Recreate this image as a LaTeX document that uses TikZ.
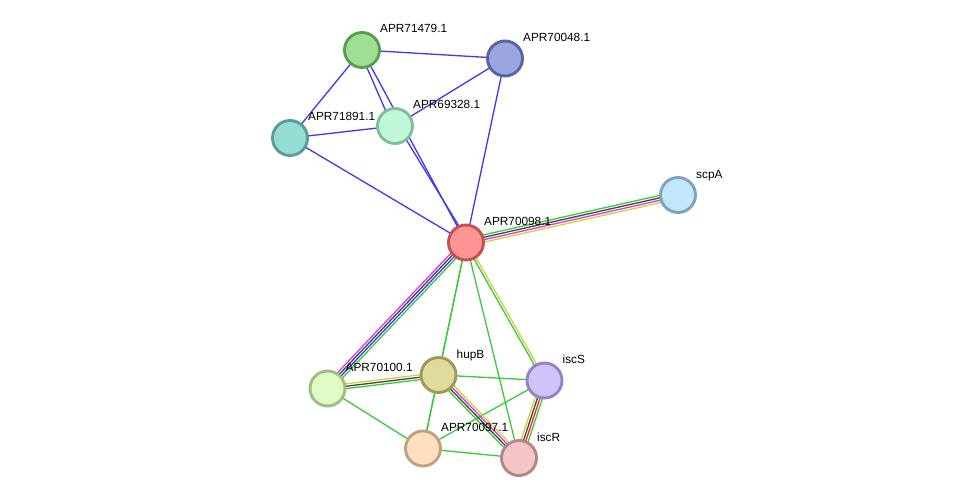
\documentclass[tikz,border=0pt]{standalone}
\usepackage{fontspec}
\setmainfont{Liberation Sans}
\usetikzlibrary{calc}
\pgfdeclarelayer{background}
\pgfsetlayers{background,main}
\definecolor{eblue}{HTML}{3A3AF0}
\definecolor{egreen}{HTML}{3CC83C}
\definecolor{eblack}{HTML}{444444}
\definecolor{emag}{HTML}{D83CD8}
\definecolor{eyel}{HTML}{C8D23C}
\definecolor{ered}{HTML}{F02828}
\tikzset{
  prot/.style={circle, minimum size=35pt, inner sep=0pt, line width=2.9pt},
  lab/.style={anchor=base west, inner sep=0pt, font=\fontsize{11.8}{14}\selectfont},
  ed/.style={line width=1.3pt},
}
% draw offset parallel line between node centers
\newcommand{\pline}[4]{\draw[ed,#4] ($(#1.center)!#3!90:(#2.center)$) -- ($(#2.center)!#3!-90:(#1.center)$);}
\begin{document}
\begin{tikzpicture}[x=1pt,y=-1pt]
\useasboundingbox (0,0) rectangle (975,503);
\node[prot, fill={rgb,255:red,159;green,223;blue,147}, draw={rgb,255:red,90;green,158;blue,80}] (a71479) at (362,50) {};
\node[prot, fill={rgb,255:red,155;green,165;blue,224}, draw={rgb,255:red,90;green,100;blue,160}] (a70048) at (505,58.5) {};
\node[prot, fill={rgb,255:red,148;green,220;blue,212}, draw={rgb,255:red,90;green,158;blue,152}] (a71891) at (290,138) {};
\node[prot, fill={rgb,255:red,192;green,247;blue,216}, draw={rgb,255:red,127;green,192;blue,154}] (a69328) at (395,126) {};
\node[prot, fill={rgb,255:red,254;green,148;blue,148}, draw={rgb,255:red,192;green,82;blue,82}] (a70098) at (466,242.5) {};
\node[prot, fill={rgb,255:red,194;green,230;blue,250}, draw={rgb,255:red,126;green,163;blue,186}] (scpA) at (678,195) {};
\node[prot, fill={rgb,255:red,224;green,252;blue,196}, draw={rgb,255:red,160;green,189;blue,132}] (a70100) at (327.5,388.5) {};
\node[prot, fill={rgb,255:red,222;green,219;blue,155}, draw={rgb,255:red,158;green,154;blue,90}] (hupB) at (438.5,375) {};
\node[prot, fill={rgb,255:red,210;green,194;blue,250}, draw={rgb,255:red,148;green,132;blue,196}] (iscS) at (544.5,380.5) {};
\node[prot, fill={rgb,255:red,254;green,224;blue,192}, draw={rgb,255:red,192;green,160;blue,128}] (a70097) at (423,448.5) {};
\node[prot, fill={rgb,255:red,245;green,198;blue,198}, draw={rgb,255:red,180;green,134;blue,134}] (iscR) at (519,458) {};

\begin{pgfonlayer}{background}
% blue single edges
\draw[ed,eblue] (a71479.center) -- (a70048.center);
\draw[ed,eblue] (a71479.center) -- (a71891.center);
\draw[ed,eblue] (a71891.center) -- (a69328.center);
\draw[ed,eblue] (a69328.center) -- (a70048.center);
\draw[ed,eblue] (a71891.center) -- (a70098.center);
\draw[ed,eblue] (a70048.center) -- (a70098.center);
\draw[ed,eblue] (a71479.center) -- (a70098.center);
\pline{a71479}{a69328}{-2.5pt}{eblue}
\pline{a69328}{a70098}{2.5pt}{eblue}
% APR70098 - scpA
\pline{a70098}{scpA}{3.6pt}{egreen}
\pline{a70098}{scpA}{1.2pt}{eblack}
\pline{a70098}{scpA}{-1.2pt}{emag}
\pline{a70098}{scpA}{-3.6pt}{eyel}
% APR70098 - APR70100
\pline{a70098}{a70100}{3.6pt}{egreen}
\pline{a70098}{a70100}{1.2pt}{eblue}
\pline{a70098}{a70100}{-1.2pt}{eblack}
\pline{a70098}{a70100}{-3.6pt}{emag}
% APR70098 - iscS
\pline{a70098}{iscS}{1.2pt}{eyel}
\pline{a70098}{iscS}{-1.2pt}{egreen}
% green singles
\draw[ed,egreen] (a70098.center) -- (hupB.center);
\draw[ed,egreen] (a70098.center) -- (a70097.center);
\draw[ed,egreen] (a70098.center) -- (iscR.center);
\draw[ed,egreen] (hupB.center) -- (iscS.center);
\draw[ed,egreen] (hupB.center) -- (a70097.center);
\draw[ed,egreen] (a70100.center) -- (a70097.center);
\draw[ed,egreen] (iscS.center) -- (a70097.center);
\draw[ed,egreen] (a70097.center) -- (iscR.center);
% hupB - APR70100
\pline{hupB}{a70100}{-2.4pt}{eyel}
\pline{hupB}{a70100}{0pt}{eblack}
\pline{hupB}{a70100}{2.4pt}{egreen}
% hupB - iscR
\pline{hupB}{iscR}{3.6pt}{eyel}
\pline{hupB}{iscR}{1.2pt}{emag}
\pline{hupB}{iscR}{-1.2pt}{eblack}
\pline{hupB}{iscR}{-3.6pt}{egreen}
% iscS - iscR
\pline{iscS}{iscR}{3.6pt}{egreen}
\pline{iscS}{iscR}{1.2pt}{ered}
\pline{iscS}{iscR}{-1.2pt}{eblack}
\pline{iscS}{iscR}{-3.6pt}{eyel}
\end{pgfonlayer}

% labels
\node[lab] (l71479) at ($(a71479)+(18,-17)$) {APR71479.1};
\node[lab] (l70048) at ($(a70048)+(18,-17)$) {APR70048.1};
\node[lab] (l71891) at ($(a71891)+(18,-17)$) {APR71891.1};
\node[lab] (l69328) at ($(a69328)+(18,-17)$) {APR69328.1};
\node[lab] (l70098) at ($(a70098)+(18,-17)$) {APR70098.1};
\node[lab] (lscpA) at ($(scpA)+(18,-17)$) {scpA};
\node[lab] (l70100) at ($(a70100)+(18,-17)$) {APR70100.1};
\node[lab] (lhupB) at ($(hupB)+(18,-17)$) {hupB};
\node[lab] (liscS) at ($(iscS)+(18,-17)$) {iscS};
\node[lab] (l70097) at ($(a70097)+(18,-17)$) {APR70097.1};
\node[lab] (liscR) at ($(iscR)+(18,-17)$) {iscR};
\end{tikzpicture}
\end{document}
